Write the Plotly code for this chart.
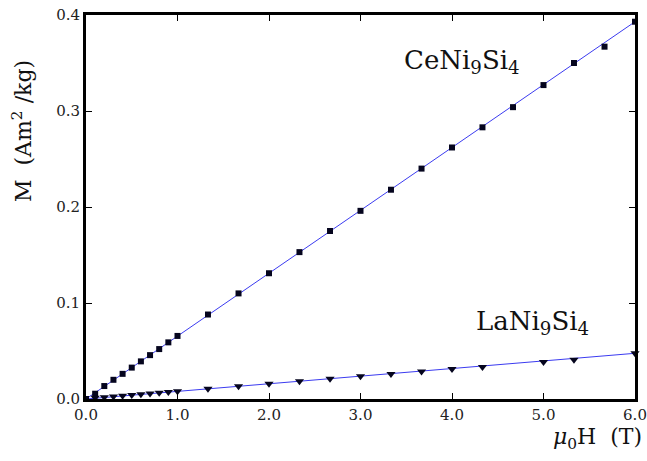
import plotly.graph_objects as go

# Magnetization isotherms M(H) for CeNi9Si4 and LaNi9Si4
ce_field = [0.0, 0.1, 0.2, 0.3, 0.4, 0.5, 0.6, 0.7, 0.8, 0.9, 1.0,
            1.333, 1.667, 2.0, 2.333, 2.667, 3.0, 3.333, 3.667, 4.0,
            4.333, 4.667, 5.0, 5.333, 5.667, 6.0]
ce_moment = [0.0, 0.0055, 0.0135, 0.020, 0.0262, 0.0327, 0.0392, 0.0457, 0.052, 0.059, 0.0657,
             0.088, 0.110, 0.131, 0.153, 0.175, 0.196, 0.218, 0.240, 0.262,
             0.283, 0.304, 0.327, 0.350, 0.367, 0.393]

la_field = [0.1, 0.2, 0.3, 0.4, 0.5, 0.6, 0.7, 0.8, 0.9, 1.0,
            1.333, 1.667, 2.0, 2.333, 2.667, 3.0, 3.333, 3.667, 4.0,
            4.333, 5.0, 5.333, 6.0]
la_moment = [0.0012, 0.0018, 0.0026, 0.0033, 0.0041, 0.0049, 0.0057, 0.0065, 0.0073, 0.0081,
             0.0108, 0.0133, 0.0160, 0.0184, 0.0211, 0.0236, 0.0260, 0.0287, 0.0312,
             0.0334, 0.0385, 0.0409, 0.0476]

# Linear fits drawn through the data
fit_field = [0.0, 6.0]
ce_fit = [0.0, 0.393]
la_fit = [0.0, 0.0476]

x_ticks = [0, 1, 2, 3, 4, 5, 6]
x_labels = ["0.0", "1.0", "2.0", "3.0", "4.0", "5.0", "6.0"]
y_ticks = [0.0, 0.1, 0.2, 0.3, 0.4]
y_labels = ["0.0", "0.1", "0.2", "0.3", "0.4"]

serif = "DejaVu Serif"
line_blue = "#3b3bf0"
marker_col = "#05051e"

fig = go.Figure()
fig.add_trace(go.Scatter(x=fit_field, y=ce_fit, mode="lines",
                         line=dict(color=line_blue, width=1), cliponaxis=False, hoverinfo="skip"))
fig.add_trace(go.Scatter(x=fit_field, y=la_fit, mode="lines",
                         line=dict(color=line_blue, width=1), cliponaxis=False, hoverinfo="skip"))
fig.add_trace(go.Scatter(x=ce_field, y=ce_moment, mode="markers", cliponaxis=False,
                         marker=dict(symbol="square", size=6, color=marker_col)))
fig.add_trace(go.Scatter(x=la_field, y=la_moment, mode="markers", cliponaxis=False,
                         marker=dict(symbol="triangle-down", size=8, color=marker_col)))

axis_common = dict(showgrid=False, zeroline=False, showline=True, linecolor="black",
                   linewidth=3, mirror="ticks", ticks="inside", ticklen=6, tickwidth=1,
                   tickcolor="black", automargin=False,
                   tickfont=dict(family=serif, size=15, color="#222222"))

fig.update_xaxes(range=[0, 6], tickvals=x_ticks, ticktext=x_labels, **axis_common)
fig.update_yaxes(range=[0, 0.4], tickvals=y_ticks, ticktext=y_labels, **axis_common)

plot_w = 647 - 86 - 12
plot_h = 461 - 15 - 62

fig.add_annotation(text="CeNi<sub>9</sub>Si<sub>4</sub>", x=4.77, y=0.332, xref="x", yref="y",
                   showarrow=False, xanchor="right", yanchor="bottom",
                   font=dict(family=serif, size=26, color="#111111"))
fig.add_annotation(text="LaNi<sub>9</sub>Si<sub>4</sub>", x=5.52, y=0.060, xref="x", yref="y",
                   showarrow=False, xanchor="right", yanchor="bottom",
                   font=dict(family=serif, size=26, color="#111111"))
fig.add_annotation(text="M  (Am<sup>2</sup> /kg)", textangle=-90,
                   x=(22 - 86) / plot_w, y=(399 - 131) / plot_h, xref="paper", yref="paper",
                   showarrow=False, xanchor="center", yanchor="middle",
                   font=dict(family=serif, size=22, color="#111111"))
fig.add_annotation(text="<i>μ</i><sub>0</sub>H  (T)",
                   x=(644 - 86) / plot_w, y=(399 - 438) / plot_h, xref="paper", yref="paper",
                   showarrow=False, xanchor="right", yanchor="middle",
                   font=dict(family=serif, size=22, color="#111111"))

fig.update_layout(width=647, height=461, showlegend=False,
                  margin=dict(l=86, r=12, t=15, b=62, autoexpand=False),
                  paper_bgcolor="white", plot_bgcolor="white")

fig.write_html("out.html")
